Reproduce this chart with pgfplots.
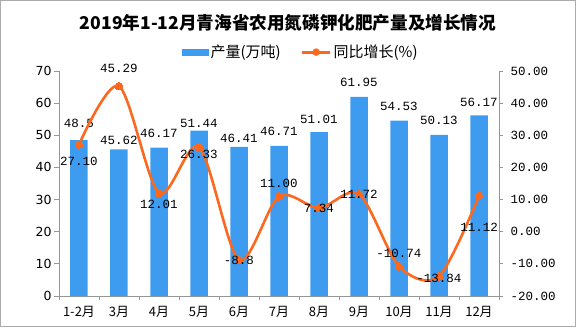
\documentclass[border=0pt]{standalone}
\usepackage{pgfplots}
\pgfplotsset{compat=1.18}
\usepackage{pgfplotstable}
\usepackage{fontspec}
\setmainfont{Noto Sans CJK SC}
\newfontfamily\numfont{Liberation Mono}
\newfontfamily\sansfont{DejaVu Sans}
\definecolor{barblue}{RGB}{62,156,240}
\definecolor{lineorange}{RGB}{252,104,30}
\definecolor{axgray}{RGB}{150,150,150}

\pgfplotstableread{
x v dy lab
0 48.5 17 48.5
1 45.62 9 45.62
2 46.17 14 46.17
3 51.44 7 51.44
4 46.41 8 46.41
5 46.71 14 46.71
6 51.01 13 51.01
7 61.95 14 61.95
8 54.53 14 54.53
9 50.13 14 50.13
10 56.17 13 56.17
}\bars

\pgfplotstableread{
x v dy lab
0 27.10 -17 27.10
1 45.29 18 45.29
2 12.01 -11 12.01
3 26.33 -7 26.33
4 -8.8 0 -8.8
5 11.00 13 11.00
6 7.34 0 7.34
7 11.72 0 11.72
8 -10.74 13 -10.74
9 -13.84 -2 -13.84
10 11.12 -31 11.12
}\growth

\begin{document}
\begin{tikzpicture}
\begin{axis}[
  scale only axis, width=440pt, height=225pt,
  xmin=-0.5, xmax=10.5, ymin=0, ymax=70,
  ybar, bar width=17.5pt,
  axis x line*=bottom, axis y line*=left,
  y axis line style={draw=axgray, line width=0.8pt},
  x axis line style={draw=axgray, line width=0.8pt},
  xtick={0,...,10},
  xticklabels={1-2月,3月,4月,5月,6月,7月,8月,9月,10月,11月,12月},
  major x tick style={draw=none},
  minor xtick={-0.5,0.5,...,10.5},
  minor x tick style={draw=axgray, line width=0.8pt},
  minor tick length=4pt,
  major tick length=5pt,
  tick align=outside,
  ytick={0,10,...,70},
  major y tick style={draw=axgray, line width=0.8pt},
  /pgf/number format/assume math mode=true,
  yticklabel style={font=\sansfont\fontsize{12.5}{15}\selectfont, xshift=1pt},
  xticklabel style={font=\fontsize{13}{15}\selectfont, yshift=-2pt},
  legend style={draw=none, fill=none, at={(0.549,1.084)}, anchor=center,
    font=\fontsize{15}{17}\selectfont, /tikz/every even column/.append style={column sep=18pt}},
  legend columns=2,
]
\addplot[fill=barblue, draw=none,
  legend image code/.code={\fill[barblue] (0pt,-3.5pt) rectangle (27pt,3.5pt);},
  nodes near coords, point meta=explicit symbolic,
  visualization depends on={\thisrow{dy} \as \dy},
  every node near coord/.append style={anchor=center, yshift=\dy pt, font=\numfont\fontsize{12.5}{14}\selectfont, text=black}]
  table[x=x, y=v, meta=lab] {\bars};
\addlegendentry{产量(万吨)}
\addlegendimage{legend image code/.code={\draw[lineorange, line width=3pt] (0pt,0pt)--(28pt,0pt); \fill[lineorange] (14pt,0pt) circle (3.5pt);}}
\addlegendentry{同比增长(\%)}
\end{axis}
\begin{axis}[
  scale only axis, width=440pt, height=225pt,
  xmin=-0.5, xmax=10.5, ymin=-20, ymax=50,
  axis x line=none, axis y line*=right,
  y axis line style={draw=axgray, line width=0.8pt},
  ytick={-20,-10,...,50},
  yticklabels={-20.00,-10.00,0.00,10.00,20.00,30.00,40.00,50.00},
  major y tick style={draw=axgray, line width=0.8pt},
  major tick length=4pt, tick align=outside,
  yticklabel style={font=\numfont\fontsize{12.5}{14}\selectfont, xshift=4pt},
]
\addplot[lineorange, line width=2.6pt, smooth, tension=0.5,
  mark=*, mark size=3.8pt, mark options={fill=lineorange, draw=lineorange, line width=0pt},
  nodes near coords, point meta=explicit symbolic,
  visualization depends on={\thisrow{dy} \as \dy},
  every node near coord/.append style={anchor=center, yshift=\dy pt, font=\numfont\fontsize{12.5}{14}\selectfont, text=black}]
  table[x=x, y=v, meta=lab] {\growth};
\end{axis}
\node[font=\bfseries\fontsize{17.6}{20}\selectfont, anchor=center, inner sep=0pt] at (229pt,273pt) {2019年1-12月青海省农用氮磷钾化肥产量及增长情况};
\draw[axgray!80, line width=1pt] (-58.5pt,-30.5pt) rectangle (516.5pt,295.5pt);
\end{tikzpicture}
\end{document}
